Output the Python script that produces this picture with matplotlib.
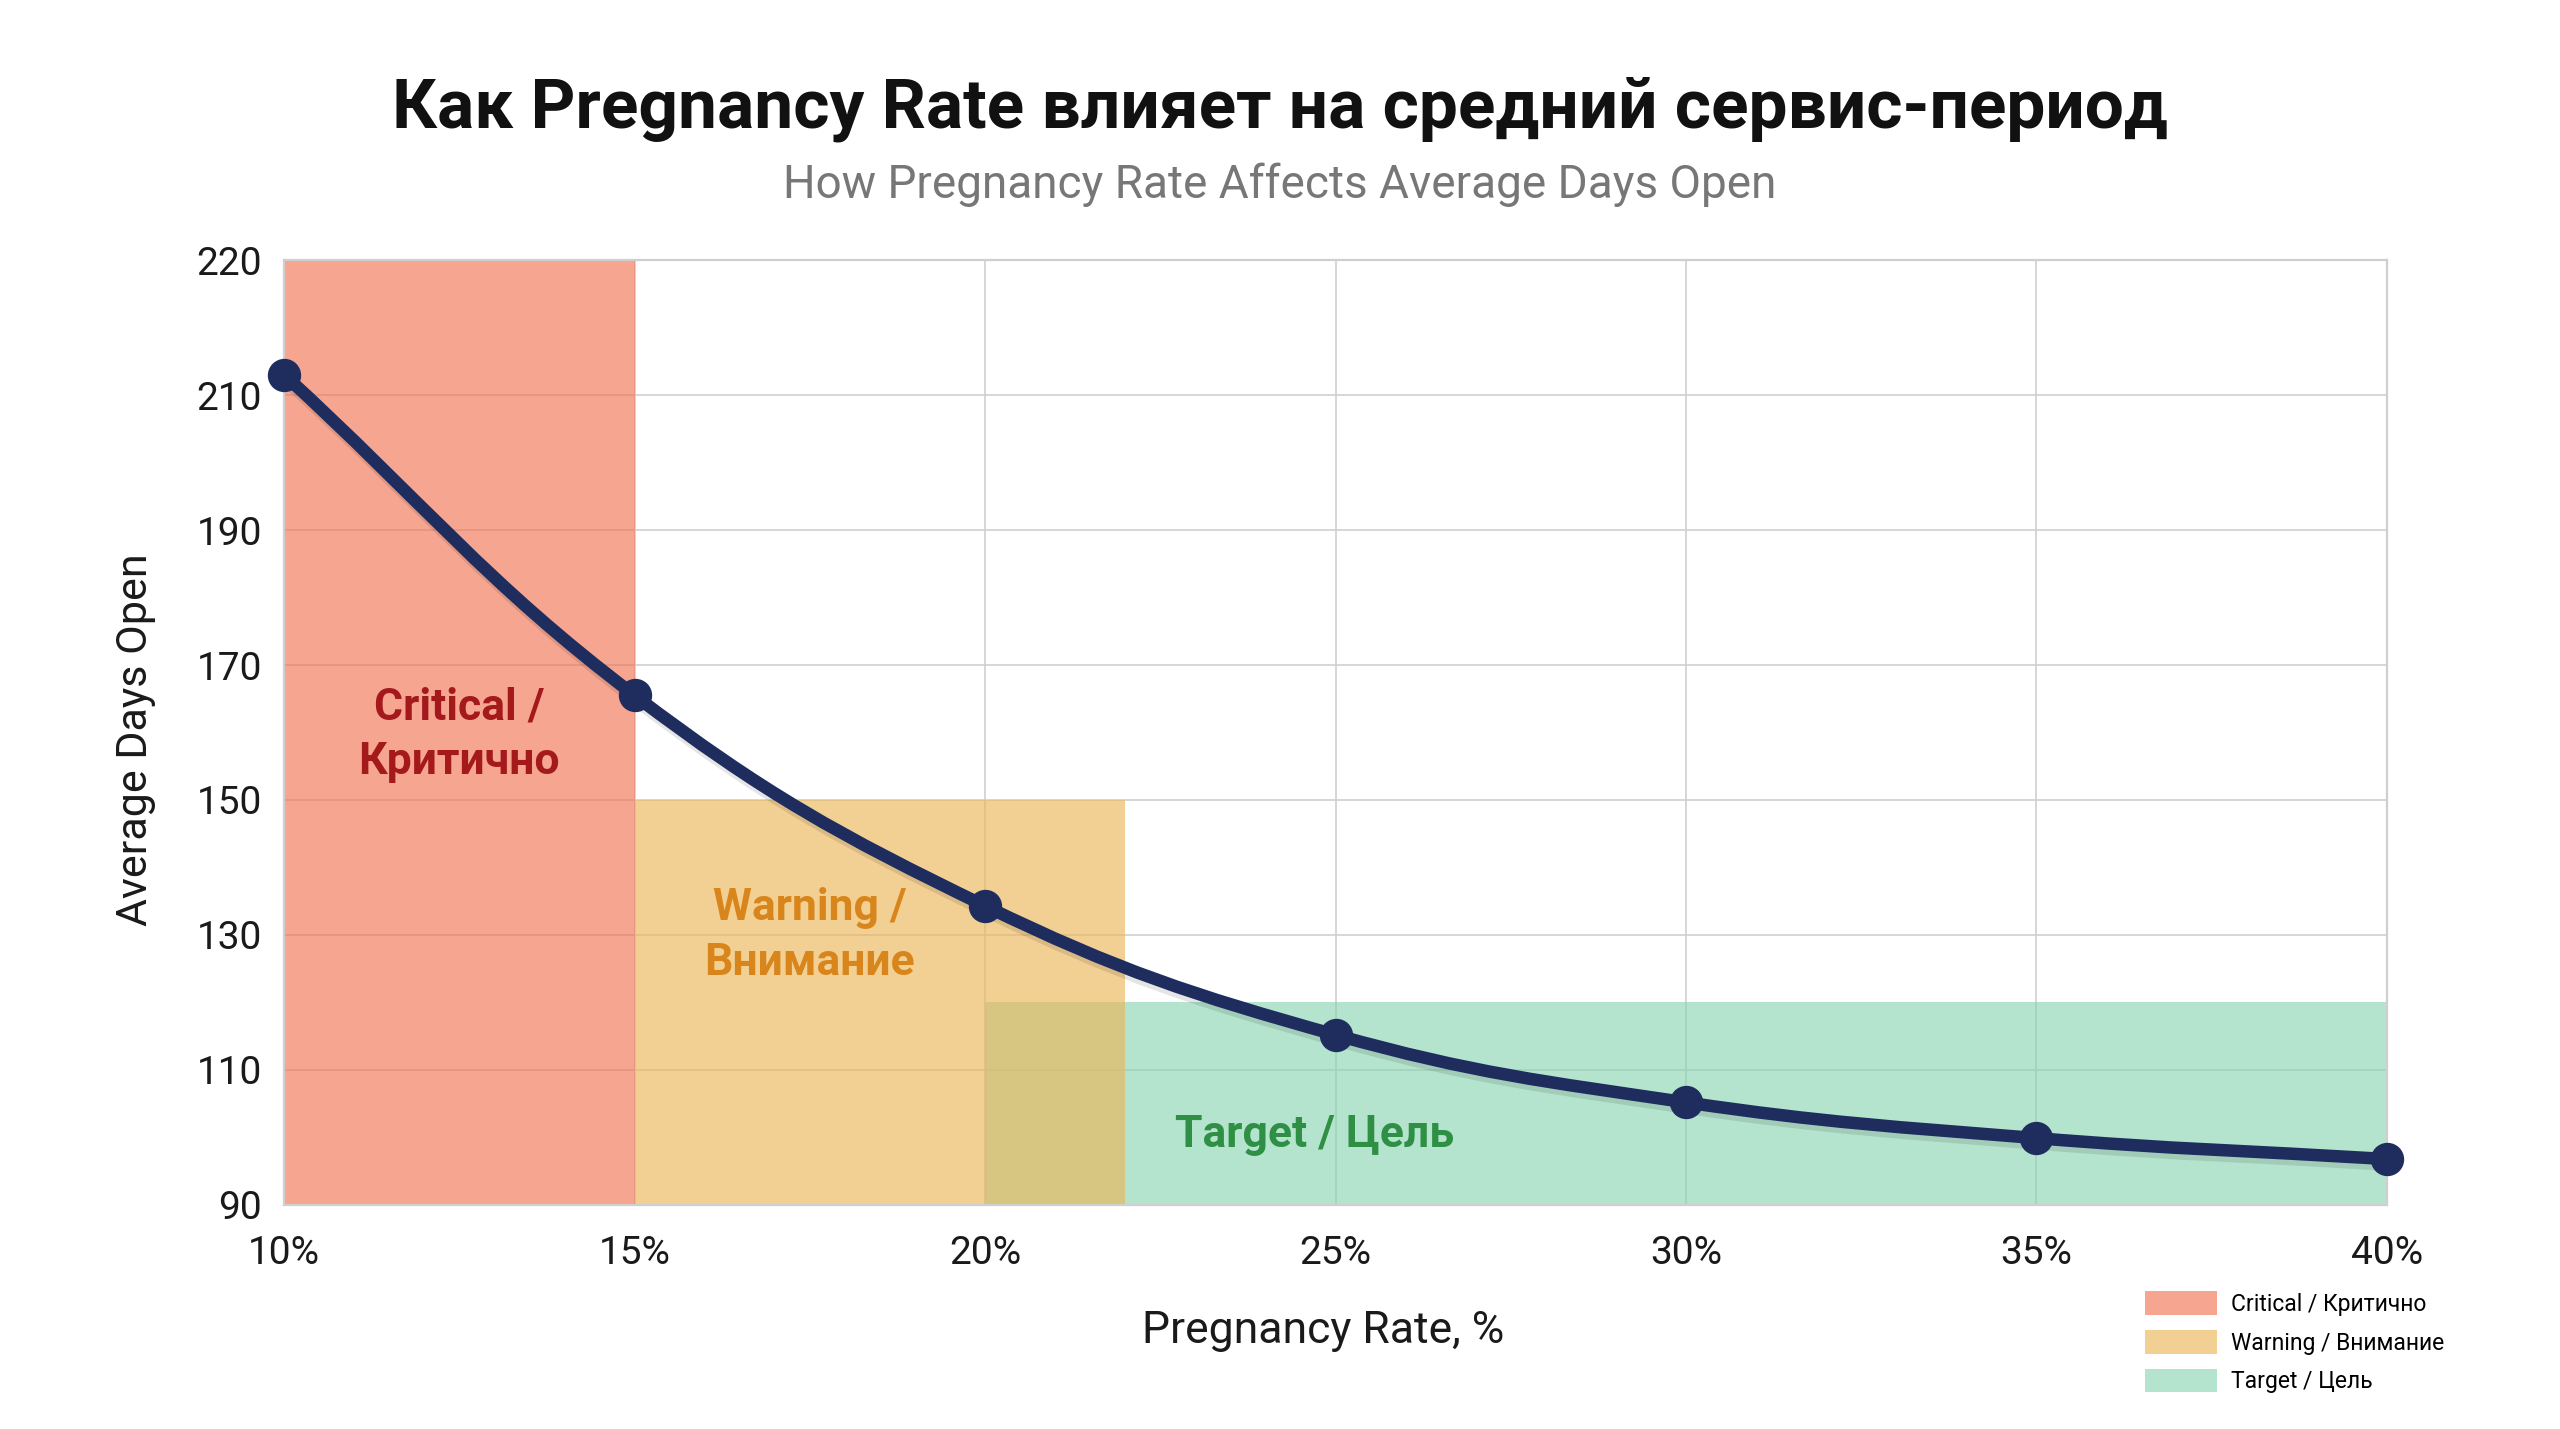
import matplotlib
matplotlib.use("Agg")
import matplotlib.pyplot as plt
import matplotlib.patheffects as pe
import numpy as np
from matplotlib.patches import Patch, PathPatch
from matplotlib.path import Path

plt.rcParams["font.family"] = ["Roboto", "DejaVu Sans"]

# data
preg_rate = [10, 15, 20, 25, 30, 35, 40]
days_open = [213, 165.5, 134.3, 115.2, 105.2, 99.9, 96.8]

x_ticks = [10, 15, 20, 25, 30, 35, 40]
x_tick_labels = ["10%", "15%", "20%", "25%", "30%", "35%", "40%"]
# the source chart labels its top gridline "220" although spacing is 20
y_ticks = [90, 110, 130, 150, 170, 190, 210, 230]
y_tick_labels = ["90", "110", "130", "150", "170", "190", "210", "220"]

zone_names = ["Critical / Критично", "Warning / Внимание", "Target / Цель"]
zone_x = [(10, 15), (15, 22), (20, 40)]
zone_y = [(90, 230), (90, 150), (90, 120)]
zone_colors = ["#f17253", "#ecb658", "#8ad5b1"]
zone_text = ["Critical /\nКритично", "Warning /\nВнимание", "Target / Цель"]
zone_text_pos = [(12.5, 159.7), (17.5, 129.9), (24.7, 100.4)]
zone_text_colors = ["#a3191c", "#d8861c", "#2f8f45"]

LINE_COLOR = "#1e2d5e"
GRID_COLOR = "#cfcfcf"
ZONE_ALPHA = 0.64

fig = plt.figure(figsize=(25.6, 14.29), dpi=100)
ax = fig.add_axes([0.111, 0.1568, 0.8214, 0.6612])
ax.set_xlim(10, 40)
ax.set_ylim(90, 230)

ax.set_axisbelow(True)
ax.grid(True, color=GRID_COLOR, linewidth=1.2)
for s in ax.spines.values():
    s.set_color(GRID_COLOR)
    s.set_linewidth(1.6)

# zones: target first, then warning and critical over it
for i in [2, 1, 0]:
    (x0, x1), (y0, y1) = zone_x[i], zone_y[i]
    ax.fill_between([x0, x1], y0, y1, color=zone_colors[i], alpha=ZONE_ALPHA,
                    linewidth=0, zorder=1)

for txt, (tx, ty), c in zip(zone_text, zone_text_pos, zone_text_colors):
    ax.text(tx, ty, txt, ha="center", va="center", fontsize=32,
            fontweight="bold", color=c, linespacing=1.38, zorder=3)

ax.set_xticks(x_ticks)
ax.set_xticklabels(x_tick_labels)
ax.set_yticks(y_ticks)
ax.set_yticklabels(y_tick_labels)
ax.tick_params(axis="both", length=0, labelsize=28, labelcolor="#1a1a1a")
ax.tick_params(axis="x", pad=22)
ax.tick_params(axis="y", pad=16)

# smooth line (Chart.js style spline with tension 0.4), built in display space
fig.canvas.draw()
pts = ax.transData.transform(np.column_stack([preg_rate, days_open]))
tension = 0.4
ctrl_prev, ctrl_next = [], []
for i in range(len(pts)):
    prev = pts[max(i - 1, 0)]
    cur = pts[i]
    nxt = pts[min(i + 1, len(pts) - 1)]
    d01 = np.hypot(*(cur - prev))
    d12 = np.hypot(*(nxt - cur))
    tot = d01 + d12 if d01 + d12 > 0 else 1
    fa = tension * d01 / tot
    fb = tension * d12 / tot
    ctrl_prev.append(cur - fa * (nxt - prev))
    ctrl_next.append(cur + fb * (nxt - prev))

verts = [pts[0]]
codes = [Path.MOVETO]
for i in range(len(pts) - 1):
    verts += [ctrl_next[i], ctrl_prev[i + 1], pts[i + 1]]
    codes += [Path.CURVE4] * 3
verts = ax.transData.inverted().transform(np.array(verts))
curve = PathPatch(Path(verts, codes), facecolor="none", edgecolor=LINE_COLOR,
                  linewidth=9, capstyle="round", joinstyle="round", zorder=4,
                  clip_on=False,
                  path_effects=[pe.SimpleLineShadow(offset=(1.5, -4), alpha=0.1,
                                                    shadow_color="black"),
                                pe.Normal()])
ax.add_patch(curve)
ax.plot(preg_rate, days_open, linestyle="none", marker="o", markersize=23,
        color=LINE_COLOR, zorder=5, clip_on=False)

fig.text(0.5, 0.9237, "Как Pregnancy Rate влияет на средний сервис-период",
         ha="center", va="center", fontsize=50, fontweight="bold", color="#111111")
fig.text(0.5, 0.871, "How Pregnancy Rate Affects Average Days Open",
         ha="center", va="center", fontsize=33, color="#777777")
fig.text(1323 / 2560, 1 - 1331 / 1429, "Pregnancy Rate, %", ha="center",
         va="center", fontsize=32, color="#1a1a1a")
fig.text(136 / 2560, 1 - 740 / 1429, "Average Days Open", ha="center",
         va="center", rotation=90, fontsize=31, color="#1a1a1a")

handles = [Patch(facecolor=c, alpha=ZONE_ALPHA, edgecolor="none") for c in zone_colors]
fig.legend(handles, zone_names, loc="upper left",
           bbox_to_anchor=(2134 / 2560, 1 - 1280 / 1429), frameon=False,
           fontsize=16.5, handlelength=3.1, handleheight=1.2,
           handletextpad=0.65, labelspacing=0.62, borderpad=0)

fig.savefig("out.png", dpi=100, facecolor="white")
